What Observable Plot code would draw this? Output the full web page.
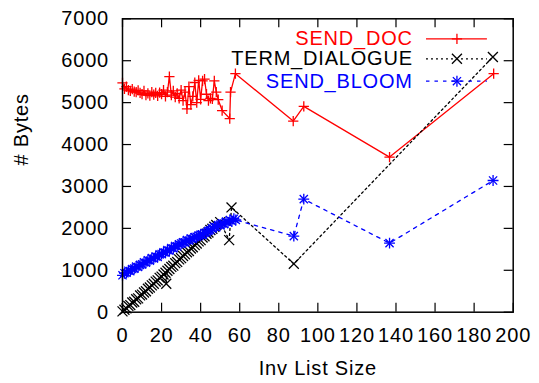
<!DOCTYPE html>
<html>
<head>
<meta charset="utf-8">
<script src="https://cdn.jsdelivr.net/npm/d3@7"></script>
<script src="https://cdn.jsdelivr.net/npm/@observablehq/plot@0.6"></script>
<style>
  body { margin: 0; background: #fff; }
  svg { display: block; }
</style>
</head>
<body>
<div id="chart"></div>
<script>
// Message sizes (bytes) against inverted list size

const docX = [0,1,2,3,4,5,6,7,8,9,10,11,12,13,14,15,16,17,18,19,20,21,22,23,24,25,26,27,28,29,
  30,31,32,33,34,35,36,37,38,39,40,41,42,43,44,45,46,47,48,49,51,54.9,55.3,57.8,87.4,92.8,136.7,190];
const docY = [5470,5330,5380,5300,5280,5320,5260,5250,5290,5230,5200,5280,5180,5220,5170,5250,5190,5230,5160,5240,
  5200,5300,5150,5250,5620,5180,5280,5130,5220,5100,5300,5050,5250,4850,5380,4950,5150,5480,5000,5530,
  5080,5520,5560,5200,5050,5100,5090,5520,5250,5070,4810,4620,5250,5690,4560,4910,3700,5690];

const termX = [0,1,2,3,4,5,6,7,8,9,10,11,12,13,14,15,16,17,18,19,20,21,22,22.4,23,24,25,26,27,28,29,
  30,31,32,33,34,35,36,37,38,39,40,41,42,43,44,45,46,47,48,50,54.6,55.8,87.7,189.6];
const termY = [20,60,90,150,170,230,250,310,330,400,420,470,500,560,590,640,680,730,760,820,850,900,940,680,990,1030,1080,1110,1170,1200,1260,
  1290,1340,1380,1430,1460,1520,1550,1600,1640,1690,1720,1780,1810,1870,1900,1960,1990,2040,2080,2150,1720,2500,1154,6090];

const bloomX = [0,1,2,3,4,5,6,7,8,9,10,11,12,13,14,15,16,17,18,19,20,21,22,23,24,25,26,27,28,29,
  30,31,32,33,34,35,36,37,38,39,40,41,42,43,44,45,46,47,48,49,50,51,52,53,54,55,56,57,58,87.7,92.8,136.7,189.7];
const bloomY = [880,930,940,990,980,1030,1040,1090,1080,1130,1140,1190,1180,1240,1230,1290,1280,1330,1320,1380,
  1390,1430,1420,1480,1470,1530,1520,1580,1570,1620,1640,1670,1660,1720,1710,1760,1750,1790,1800,1830,
  1850,1840,1890,1900,1940,1960,2000,2040,2030,2080,2090,2120,2100,2160,2140,2200,2170,2230,2200,1814,2697,1647,3142];

const seriesNames = ["SEND_DOC", "TERM_DIALOGUE", "SEND_BLOOM"];
const xTicks = [0,20,40,60,80,100,120,140,160,180,200];
const yTicks = [0,1000,2000,3000,4000,5000,6000,7000];

const rows = (xs, ys) => xs.map((x, i) => ({x, y: ys[i]}));
const sendDoc = rows(docX, docY);
const termDialogue = rows(termX, termY);
const sendBloom = rows(bloomX, bloomY);

// Layout
const W = 539, H = 383;
const M = {top: 18.3, right: 26.3, bottom: 71.3, left: 122};
const innerW = W - M.left - M.right;
const innerH = H - M.top - M.bottom;
const tickLen = 9;
const font = "'Liberation Sans', Arial, Helvetica, sans-serif";
const fs = 20;

// Key, placed inside the top right of the frame (in axis units)
const key = {textX: 148.6, x1: 155.6, x2: 186.8, markX: 171.2, rowY: [6523, 6046, 5511]};
const keyRow = i => [{x1: key.x1, x2: key.x2, y: key.rowY[i]}];

const red = "#ff0000", blue = "#0000ff", black = "#000000";
const lw = 1.3;

// point styles: plus (+), cross (x) and star (+ and x together)
const plusR = 3.4, timesR = 4.6, starPlusR = 3.6, starTimesR = 3.8;
const plusDots = (data, x, color) =>
  Plot.dot(data, {x, y: "y", symbol: "plus", r: plusR, stroke: color, strokeWidth: lw});
const timesDots = (data, x, color) =>
  Plot.dot(data, {x, y: "y", symbol: "times", r: timesR, stroke: color, strokeWidth: lw});
const starDots = (data, x, color) => [
  Plot.dot(data, {x, y: "y", symbol: "plus", r: starPlusR, stroke: color, strokeWidth: lw}),
  Plot.dot(data, {x, y: "y", symbol: "times", r: starTimesR, stroke: color, strokeWidth: lw})
];

const chart = Plot.plot({
  width: W,
  height: H,
  marginTop: M.top,
  marginRight: M.right,
  marginBottom: M.bottom,
  marginLeft: M.left,
  x: {domain: [0, 200]},
  y: {domain: [0, 7000]},
  style: {fontFamily: font, fontSize: fs + "px", letterSpacing: "0.8px", background: "#fff", color: "#000"},
  marks: [
    // inward ticks on all four sides
    Plot.ruleX(xTicks, {insetTop: innerH - tickLen, stroke: black, strokeWidth: 1.2}),
    Plot.ruleX(xTicks, {insetBottom: innerH - tickLen, stroke: black, strokeWidth: 1.2}),
    Plot.ruleY(yTicks, {insetRight: innerW - tickLen, stroke: black, strokeWidth: 1.2}),
    Plot.ruleY(yTicks, {insetLeft: innerW - tickLen, stroke: black, strokeWidth: 1.2}),
    Plot.axisX(xTicks, {tickSize: 0, tickPadding: 16, fontSize: fs, label: null, tickFormat: d => String(d)}),
    Plot.axisY(yTicks, {tickSize: 0, tickPadding: 13.5, fontSize: fs, label: null, tickFormat: d => String(d)}),

    // SEND_DOC
    Plot.line(sendDoc, {x: "x", y: "y", stroke: red, strokeWidth: lw}),
    plusDots(sendDoc, "x", red),

    // TERM_DIALOGUE
    Plot.line(termDialogue, {x: "x", y: "y", stroke: black, strokeWidth: lw, strokeDasharray: "2,3"}),
    timesDots(termDialogue, "x", black),

    // SEND_BLOOM
    Plot.line(sendBloom, {x: "x", y: "y", stroke: blue, strokeWidth: lw, strokeDasharray: "3.5,5"}),
    starDots(sendBloom, "x", blue),

    // key
    Plot.text(seriesNames, {
      x: () => key.textX, y: (d, i) => key.rowY[i], text: d => d,
      textAnchor: "end", lineAnchor: "middle", fontSize: fs,
      fill: (d, i) => [red, black, blue][i]
    }),
    Plot.ruleY(keyRow(0), {x1: "x1", x2: "x2", y: "y", stroke: red, strokeWidth: lw}),
    plusDots(keyRow(0), () => key.markX, red),
    Plot.ruleY(keyRow(1), {x1: "x1", x2: "x2", y: "y", stroke: black, strokeWidth: lw, strokeDasharray: "2,3"}),
    timesDots(keyRow(1), () => key.markX, black),
    Plot.ruleY(keyRow(2), {x1: "x1", x2: "x2", y: "y", stroke: blue, strokeWidth: lw, strokeDasharray: "3.5,5"}),
    starDots(keyRow(2), () => key.markX, blue),

    // axis titles
    Plot.text(["Inv List Size"], {frameAnchor: "bottom", dy: 56, lineAnchor: "middle", fontSize: fs}),
    Plot.text(["# Bytes"], {frameAnchor: "left", dx: -100.5, rotate: -90, lineAnchor: "middle", fontSize: fs}),

    Plot.frame({stroke: black, strokeWidth: 1.5})
  ]
});

document.getElementById("chart").appendChild(chart);
</script>
</body>
</html>
